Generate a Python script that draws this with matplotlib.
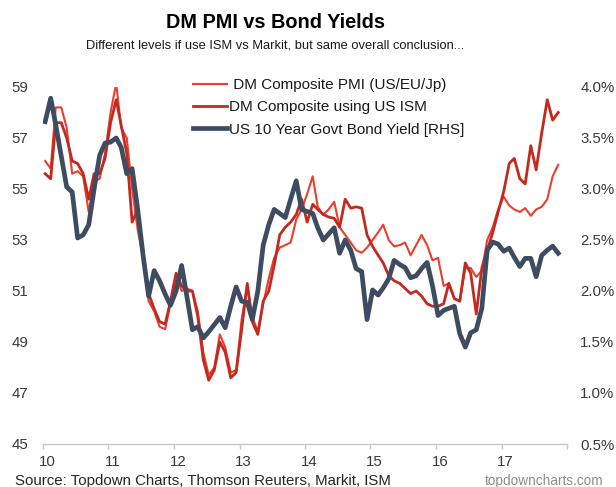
import matplotlib
matplotlib.use("Agg")
import matplotlib.pyplot as plt
import matplotlib.transforms as mtransforms
import numpy as np
import pandas as pd

plt.rcParams['font.family'] = ['Liberation Sans', 'DejaVu Sans']

# Monthly observations, Jan 2010 - Nov 2017
months = pd.date_range('2010-01-01', periods=95, freq='MS') + pd.Timedelta(days=12)

pmi_markit = [
    56.1, 55.8, 58.2, 58.2, 57.4, 55.6, 55.7, 55.5, 54.1, 55.3,
    55.4, 56.4, 58.0, 59.15, 57.4, 57.0, 55.0, 53.4, 52.3, 50.6,
    50.2, 49.6, 49.5, 50.5, 51.6, 51.0, 51.1, 51.0, 50.2, 48.6,
    47.7, 48.0, 49.3, 48.8, 47.8, 47.9, 49.9, 51.2, 50.0, 49.4,
    50.5, 51.5, 52.3, 52.7, 52.8, 52.9, 53.8, 54.2, 54.8, 55.5,
    54.3, 54.0, 54.2, 54.5, 53.5, 53.2, 52.9, 52.6, 52.5, 52.7,
    53.0, 53.3, 53.6, 53.0, 52.75, 52.8, 52.9, 52.4, 52.8, 53.2,
    52.8, 52.2, 52.3, 51.2, 51.3, 50.7, 50.6, 51.9, 51.9, 51.55,
    51.8, 53.0, 53.5, 54.2, 54.7, 54.35, 54.2, 54.1, 54.25, 53.95,
    54.2, 54.3, 54.6, 55.5, 55.95,
]

pmi_ism = [
    55.6, 55.4, 57.6, 57.6, 57.0, 56.1, 56.0, 55.6, 54.6, 55.6,
    55.6, 56.2, 57.6, 58.5, 57.5, 56.4, 53.7, 54.2, 52.5, 50.9,
    50.3, 49.8, 49.7, 50.6, 51.7, 51.2, 51.0, 51.0, 50.0, 48.3,
    47.5, 47.9, 49.0, 48.6, 47.6, 47.8, 49.5, 51.3, 49.8, 49.3,
    50.6, 51.0, 52.0, 53.2, 53.5, 53.7, 54.0, 54.6, 53.7, 54.4,
    54.2, 54.0, 53.9, 53.85, 53.5, 54.6, 54.25, 54.3, 54.25, 53.2,
    52.75, 52.4, 52.1, 51.6, 51.4, 51.3, 51.1, 50.9, 51.0, 50.8,
    50.5, 50.4, 50.4, 50.5, 51.3, 50.7, 50.6, 52.1, 51.7, 50.1,
    51.9, 52.6, 53.3, 54.1, 54.9, 56.0, 56.2, 55.4, 55.2, 56.7,
    55.75, 57.2, 58.5, 57.7, 58.0,
]

us10y_yield = [
    3.66, 3.89, 3.63, 3.32, 3.02, 2.97, 2.52, 2.55, 2.65, 3.00,
    3.33, 3.45, 3.46, 3.50, 3.41, 3.15, 3.20, 2.80, 2.35, 1.95,
    2.20, 2.10, 1.97, 1.86, 2.00, 2.25, 1.95, 1.62, 1.65, 1.54,
    1.60, 1.67, 1.74, 1.64, 1.85, 2.04, 1.90, 1.89, 1.72, 2.00,
    2.45, 2.65, 2.80, 2.76, 2.72, 2.90, 3.08, 2.80, 2.78, 2.76,
    2.62, 2.50, 2.56, 2.62, 2.37, 2.50, 2.40, 2.22, 2.19, 1.72,
    2.01, 1.96, 2.03, 2.12, 2.30, 2.26, 2.23, 2.13, 2.15, 2.22,
    2.28, 2.05, 1.76, 1.81, 1.83, 1.85, 1.58, 1.45, 1.59, 1.62,
    1.83, 2.40, 2.48, 2.46, 2.39, 2.42, 2.33, 2.24, 2.32, 2.32,
    2.14, 2.35, 2.40, 2.44, 2.37,
]

year_ticks = pd.date_range('2010-01-01', '2018-01-01', freq='YS')
year_labels = ['10', '11', '12', '13', '14', '15', '16', '17', '']
pmi_ticks = [45, 47, 49, 51, 53, 55, 57, 59]
yield_ticks = [0.5, 1.0, 1.5, 2.0, 2.5, 3.0, 3.5, 4.0]

series_labels = [' DM Composite PMI (US/EU/Jp)', 'DM Composite using US ISM',
                 'US 10 Year Govt Bond Yield [RHS]']

C_MARKIT = '#EA3F2E'
C_ISM = '#C22A20'
C_YIELD = '#3E4C62'
C_TEXT = '#3A3A3A'
TICK_FS = 10.8

W, H = 616, 487
fig = plt.figure(figsize=(W / 100, H / 100), dpi=100)
ax = fig.add_axes([43 / W, 1 - 444 / H, 524 / W, 357 / H])
ax2 = ax.twinx()

l1, = ax.plot(months, pmi_markit, color=C_MARKIT, lw=1.5, label=series_labels[0])
l2, = ax.plot(months, pmi_ism, color=C_ISM, lw=2.0, label=series_labels[1])
l3, = ax2.plot(months, us10y_yield, color=C_YIELD, lw=3.4, label=series_labels[2],
               solid_joinstyle='round')

ax.set_xlim(pd.Timestamp('2010-01-01'), pd.Timestamp('2018-01-01'))
ax.set_ylim(45, 59)
ax.set_yticks(pmi_ticks)
ax2.set_ylim(0.5, 4.0)
ax2.set_yticks(yield_ticks)
ax2.set_yticklabels([f'{v:.1f}%' for v in yield_ticks])
ax.set_xticks(year_ticks)
ax.set_xticklabels(year_labels)

for a in (ax, ax2):
    for s in ('top', 'left', 'right'):
        a.spines[s].set_visible(False)
ax2.spines['bottom'].set_visible(False)
ax.spines['bottom'].set_color('#C8C8C8')
ax.spines['bottom'].set_linewidth(1.0)

ax.tick_params(axis='y', length=0, pad=10.5, labelsize=TICK_FS, labelcolor=C_TEXT)
ax2.tick_params(axis='y', length=0, pad=9.5, labelsize=TICK_FS, labelcolor=C_TEXT)
ax.tick_params(axis='x', length=3.6, width=1.0, color='#C8C8C8', pad=4.5,
               labelsize=TICK_FS, labelcolor=C_TEXT)

shift = mtransforms.ScaledTranslation(4 / 100, 0, fig.dpi_scale_trans)
for lab in ax.get_xticklabels():
    lab.set_transform(lab.get_transform() + shift)

fig.text(275 / W, 1 - 22 / H, 'DM PMI vs Bond Yields', ha='center', va='center',
         fontsize=14.3, fontweight='bold', color='black')
fig.text(275 / W, 1 - 45 / H,
         'Different levels if use ISM vs Markit, but same overall conclusion...',
         ha='center', va='center', fontsize=9.3, color='#1A1A1A')
fig.text(15 / W, 1 - 481 / H, 'Source: Topdown Charts, Thomson Reuters, Markit, ISM',
         ha='left', va='center', fontsize=10.8, color='#262626')
fig.text(603 / W, 1 - 481 / H, 'topdowncharts.com', ha='right', va='center',
         fontsize=9.8, color='#8E8E8E')

fig.legend(handles=[l1, l2, l3], loc='upper left', bbox_to_anchor=(193 / W, 1 - 78 / H),
           frameon=False, fontsize=11, handlelength=2.2, handletextpad=0.15,
           labelspacing=0.55, borderpad=0, borderaxespad=0, labelcolor='#1A1A1A')

fig.savefig('out.png', dpi=100)
